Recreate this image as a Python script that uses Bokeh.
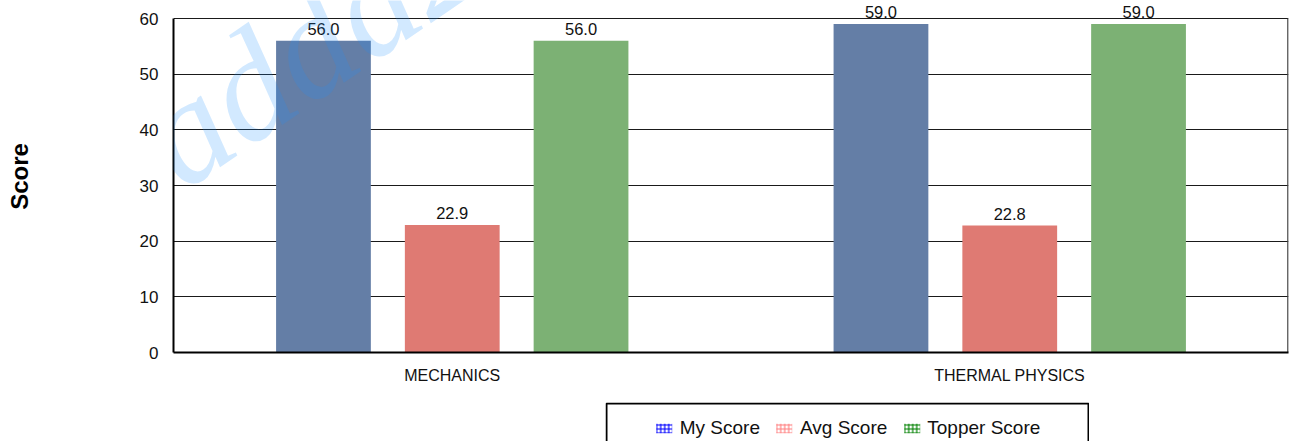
from bokeh.plotting import figure
from bokeh.models import (ColumnDataSource, FactorRange, Range1d, LabelSet, Label,
                          Legend, LegendItem, FixedTicker, Spacer)
from bokeh.transform import dodge
from bokeh.layouts import column, row
from bokeh.embed import file_html
from bokeh.resources import INLINE
from bokeh.core.properties import value

# ---- data ----
categories = ["MECHANICS", "THERMAL PHYSICS"]
my_score = [56.0, 59.0]
avg_score = [22.9, 22.8]
topper_score = [56.0, 59.0]
series_names = ["My Score", "Avg Score", "Topper Score"]
y_ticks = [0, 10, 20, 30, 40, 50, 60]
y_max = 60

# ---- styles / geometry ----
FONT = "Liberation Sans"
bar_colors = ["#647ea6", "#df7a73", "#7cb174"]
hatch_colors = ["#0000ff", "#ff8080", "#008000"]
offsets = [-0.231, 0.0, 0.231]
bar_width = 0.17

FIG_W = 1290
FIG_H = 402
TOP_PAD = 18            # pixels of frame above the 60 line (room for value labels)
FRAME_BOTTOM = 352      # y of the zero line inside the figure
px_per_unit = (FRAME_BOTTOM - TOP_PAD) / y_max
y_end = y_max + TOP_PAD / px_per_unit

src = ColumnDataSource(dict(
    cat=categories,
    my=my_score, avg=avg_score, top=topper_score,
    my_lbl=[f"{v:.1f}" for v in my_score],
    avg_lbl=[f"{v:.1f}" for v in avg_score],
    top_lbl=[f"{v:.1f}" for v in topper_score],
))

p = figure(x_range=FactorRange(*categories, range_padding=0),
           y_range=Range1d(0, y_end),
           width=FIG_W, height=FIG_H, output_backend="svg", toolbar_location=None,
           min_border_left=173, min_border_right=2, min_border_top=0,
           min_border_bottom=FIG_H - FRAME_BOTTOM)

fields = ["my", "avg", "top"]
for f, off, col in zip(fields, offsets, bar_colors):
    p.vbar(x=dodge("cat", off, range=p.x_range), top=f, width=bar_width,
           source=src, fill_color=col, line_color=None)
    p.add_layout(LabelSet(x=dodge("cat", off, range=p.x_range), y=f,
                          text=f + "_lbl", source=src, y_offset=6,
                          text_align="center", text_baseline="alphabetic",
                          text_font=value(FONT), text_font_size="16.5px",
                          text_color="#111111"))

# watermark
p.add_layout(Label(x=-19, y=202, x_units="screen", y_units="screen",
                   text="adda247", angle=0.6, text_font="Liberation Serif",
                   text_font_style="italic", text_font_size="150px",
                   text_color="#1e90ff", text_alpha=0.2,
                   text_baseline="alphabetic"))

# right edge of the plot box, from 0 to 60 only
edge = ColumnDataSource(dict(cat=[categories[-1]], y0=[0], y1=[y_max]))
p.segment(x0=dodge("cat", 0.499, range=p.x_range), x1=dodge("cat", 0.499, range=p.x_range),
          y0="y0", y1="y1", source=edge, line_color="#444444", line_width=1.5)

p.ygrid.ticker = FixedTicker(ticks=y_ticks)
p.yaxis.ticker = FixedTicker(ticks=y_ticks)
p.ygrid.grid_line_color = "#1a1a1a"
p.ygrid.grid_line_width = 1
p.xgrid.grid_line_color = None

for ax in (p.xaxis, p.yaxis):
    ax.axis_line_color = "#000000"
    ax.axis_line_width = 2
    ax.major_tick_line_color = None
    ax.minor_tick_line_color = None
    ax.major_label_text_font = FONT
    ax.major_label_text_color = "#111111"

p.yaxis.bounds = (0, y_max)
p.yaxis.major_label_text_font_size = "17px"
p.yaxis.major_label_standoff = 9
p.yaxis.axis_label = "Score"
p.yaxis.axis_label_text_font = FONT
p.yaxis.axis_label_text_font_style = "bold"
p.yaxis.axis_label_text_font_size = "24px"
p.yaxis.axis_label_text_color = "#000000"
p.yaxis.axis_label_standoff = 104

p.xaxis.major_label_text_font_size = "16px"
p.xaxis.major_label_standoff = 8

p.outline_line_color = None
p.background_fill_color = "#ffffff"

# ---- legend panel ----
LG_W, LG_H = 484, 39
lg = figure(width=LG_W, height=LG_H, x_range=Range1d(0, LG_W), y_range=Range1d(0, LG_H),
            output_backend="svg", toolbar_location=None,
            x_axis_location=None, y_axis_location=None, min_border=0)
lg.xgrid.grid_line_color = None
lg.ygrid.grid_line_color = None
lg.outline_line_color = None
lg.quad(left=[1], right=[LG_W - 1], top=[LG_H - 1], bottom=[-10], fill_alpha=0,
        line_color="#000000", line_width=2)

items = []
for name, hc in zip(series_names, hatch_colors):
    r = lg.rect(x=[-100], y=[-100], width=1, height=1, fill_alpha=0, line_alpha=0,
                hatch_pattern="+", hatch_color=hc, hatch_scale=4, hatch_weight=1.2)
    items.append(LegendItem(label=name, renderers=[r]))

legend = Legend(items=items, orientation="horizontal", location="top_center",
                margin=15, padding=0, spacing=14, label_standoff=6,
                glyph_width=20, glyph_height=12,
                label_text_font=FONT, label_text_font_size="19px",
                label_text_color="#111111",
                border_line_alpha=0, background_fill_alpha=0)
lg.add_layout(legend)

layout = column(p, row(Spacer(width=605, height=LG_H), lg))

open("out.html", "w").write(file_html(layout, INLINE))
